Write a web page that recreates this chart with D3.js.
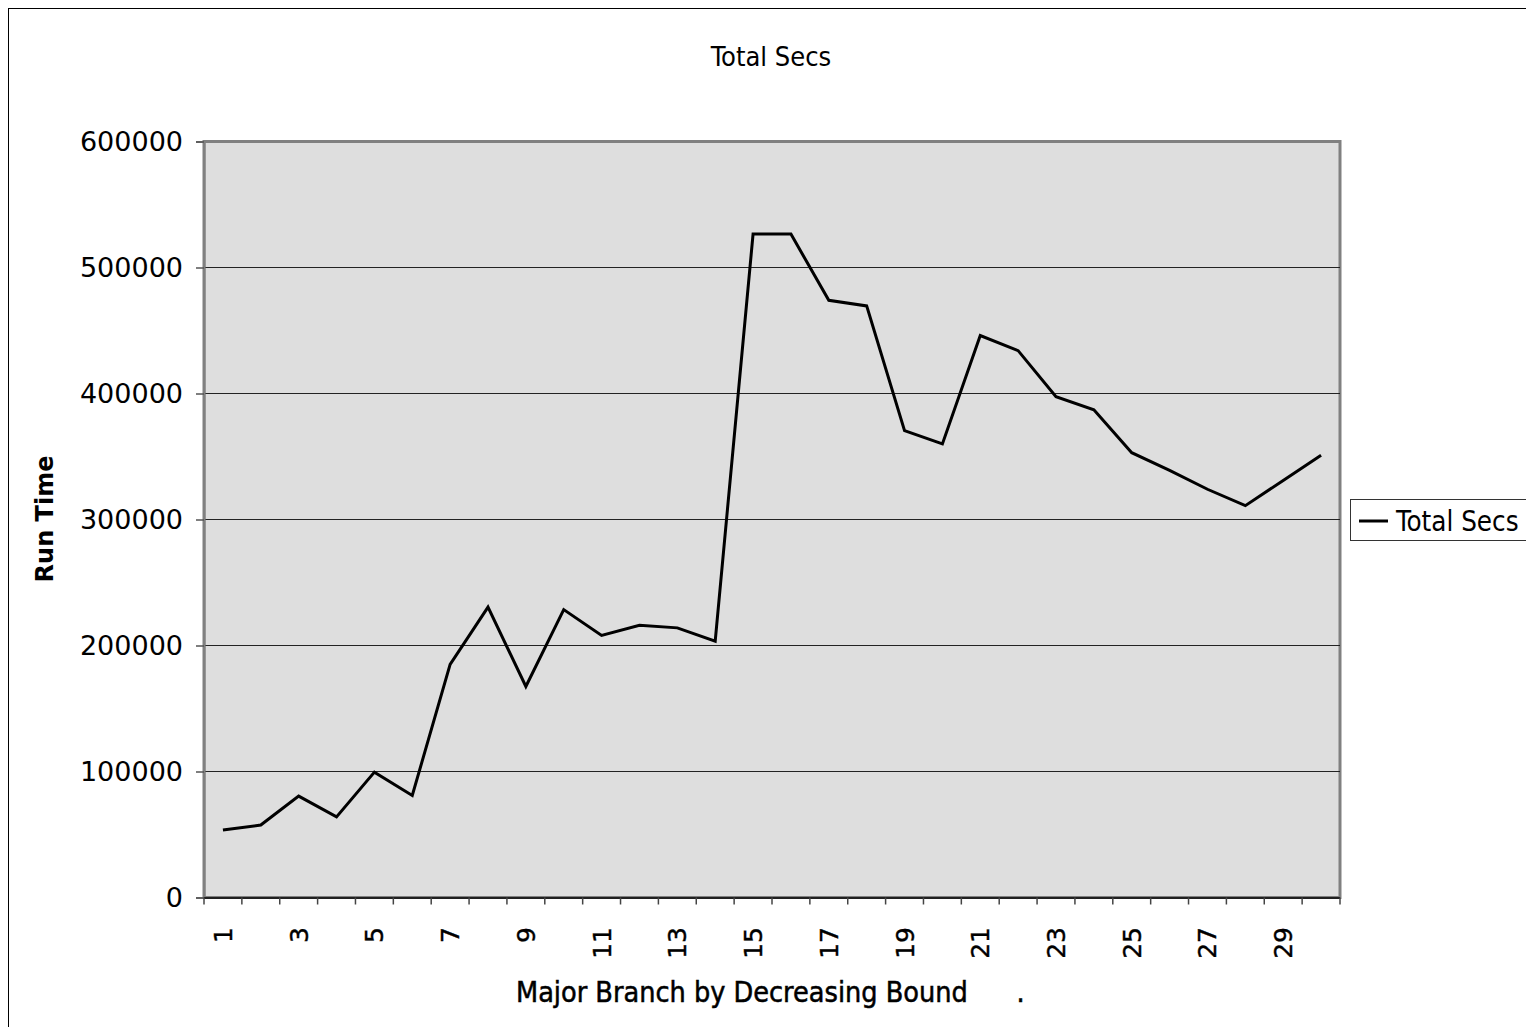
<!DOCTYPE html>
<html>
<head>
<meta charset="utf-8">
<script src="https://cdn.jsdelivr.net/npm/d3@7"></script>
<style>
  html, body { margin: 0; padding: 0; background: #fff; overflow: hidden; }
  #chart { width: 1526px; height: 1027px; }
</style>
</head>
<body>
<div id="chart"></div>
<script>
// Total Secs line chart (Excel style)

const categories = d3.range(1, 31).map(String);
const totalSecs = [
  53500, 57500, 80500, 64000, 99500, 81000, 185000, 230500, 167500, 228500,
  208000, 216000, 214000, 203500, 526500, 526500, 474000, 469500, 370500, 360000,
  446000, 434000, 397500, 387000, 353000, 339000, 324000, 311000, 331000, 351000
];
const yTicks = [0, 100000, 200000, 300000, 400000, 500000, 600000];
const tickLabelCats = categories.filter((c, i) => i % 2 === 0);

document.addEventListener('DOMContentLoaded', function() {
  const container = document.getElementById('chart');
  const width = 1526, height = 1027;
  const plot = { left: 204, right: 1340, top: 141.5, bottom: 897.5 };

  const svg = d3.select(container)
    .append('svg')
    .attr('width', width)
    .attr('height', height);

  // chart area border (extends past the window on right/bottom)
  svg.append('rect')
    .attr('x', 8.5).attr('y', 8.5)
    .attr('width', 1560).attr('height', 1060)
    .attr('fill', '#fff')
    .attr('stroke', '#000')
    .attr('stroke-width', 1);

  const x = d3.scaleBand().domain(categories).range([plot.left, plot.right]);
  const y = d3.scaleLinear().domain([0, 600000]).range([plot.bottom, plot.top]);

  // plot area
  svg.append('rect')
    .attr('x', plot.left).attr('y', plot.top)
    .attr('width', plot.right - plot.left)
    .attr('height', plot.bottom - plot.top)
    .attr('fill', '#dedede')
    .attr('stroke', '#808080')
    .attr('stroke-width', 3);

  // gridlines
  svg.append('g')
    .selectAll('line')
    .data(yTicks.filter(d => d > 0 && d < 600000))
    .enter().append('line')
    .attr('x1', plot.left).attr('x2', plot.right)
    .attr('y1', d => y(d)).attr('y2', d => y(d))
    .attr('stroke', '#222')
    .attr('stroke-width', 1.2);

  // y axis
  const yAxis = svg.append('g')
    .attr('transform', `translate(${plot.left},0)`)
    .call(d3.axisLeft(y).tickValues(yTicks).tickSize(8).tickPadding(13).tickFormat(d3.format('d')));
  yAxis.select('.domain').attr('stroke', '#808080').attr('stroke-width', 2);
  yAxis.selectAll('.tick line').attr('stroke', '#555').attr('stroke-width', 1.5);
  yAxis.selectAll('.tick text')
    .attr('font-family', 'DejaVu Sans, Verdana, sans-serif')
    .attr('font-size', 27)
    .attr('fill', '#000');

  // x axis: ticks on category boundaries
  const bounds = categories.map(c => x(c)).concat([plot.right]);
  svg.append('line')
    .attr('x1', plot.left).attr('x2', plot.right)
    .attr('y1', plot.bottom + 0.5).attr('y2', plot.bottom + 0.5)
    .attr('stroke', '#000').attr('stroke-width', 1.5);
  svg.append('g')
    .selectAll('line')
    .data(bounds)
    .enter().append('line')
    .attr('x1', d => d).attr('x2', d => d)
    .attr('y1', plot.bottom).attr('y2', plot.bottom + 7)
    .attr('stroke', '#444').attr('stroke-width', 1.5);

  svg.append('g')
    .selectAll('text')
    .data(tickLabelCats)
    .enter().append('text')
    .attr('transform', d => `translate(${x(d) + x.bandwidth() / 2},927) rotate(-90)`)
    .attr('text-anchor', 'end')
    .attr('dy', '0.36em')
    .attr('font-family', 'DejaVu Sans, Verdana, sans-serif')
    .attr('font-size', 25)
    .attr('fill', '#000')
    .attr('stroke', '#000')
    .attr('stroke-width', 0.4)
    .text(d => d);

  // data line
  const line = d3.line()
    .x((d, i) => x(categories[i]) + x.bandwidth() / 2)
    .y(d => y(d));
  svg.append('path')
    .datum(totalSecs)
    .attr('d', line)
    .attr('fill', 'none')
    .attr('stroke', '#000')
    .attr('stroke-width', 3)
    .attr('stroke-linejoin', 'miter');

  // titles
  svg.append('text')
    .attr('x', 771).attr('y', 66)
    .attr('text-anchor', 'middle')
    .attr('font-family', 'DejaVu Sans Condensed, DejaVu Sans, sans-serif')
    .attr('font-size', 27)
    .attr('fill', '#000')
    .text('Total Secs');

  svg.append('text')
    .attr('x', 516).attr('y', 1002)
    .style('white-space', 'pre')
    .attr('font-family', 'DejaVu Sans Condensed, DejaVu Sans, sans-serif')
    .attr('font-size', 28.5)
    .attr('fill', '#000')
    .attr('stroke', '#000')
    .attr('stroke-width', 0.5)
    .text('Major Branch by Decreasing Bound      .');

  svg.append('text')
    .attr('transform', 'translate(53,519) rotate(-90)')
    .attr('text-anchor', 'middle')
    .attr('font-family', 'DejaVu Sans, sans-serif')
    .attr('font-weight', 'bold')
    .attr('font-size', 24)
    .attr('fill', '#000')
    .text('Run Time');

  // legend
  const legend = svg.append('g');
  legend.append('rect')
    .attr('x', 1350.5).attr('y', 499.5)
    .attr('width', 200).attr('height', 41)
    .attr('fill', '#fff')
    .attr('stroke', '#333')
    .attr('stroke-width', 1);
  legend.append('line')
    .attr('x1', 1359).attr('x2', 1388)
    .attr('y1', 521).attr('y2', 521)
    .attr('stroke', '#000').attr('stroke-width', 3);
  legend.append('text')
    .attr('x', 1396).attr('y', 531)
    .attr('font-family', 'DejaVu Sans Condensed, DejaVu Sans, sans-serif')
    .attr('font-size', 27.5)
    .attr('fill', '#000')
    .text('Total Secs');
});
</script>
</body>
</html>
